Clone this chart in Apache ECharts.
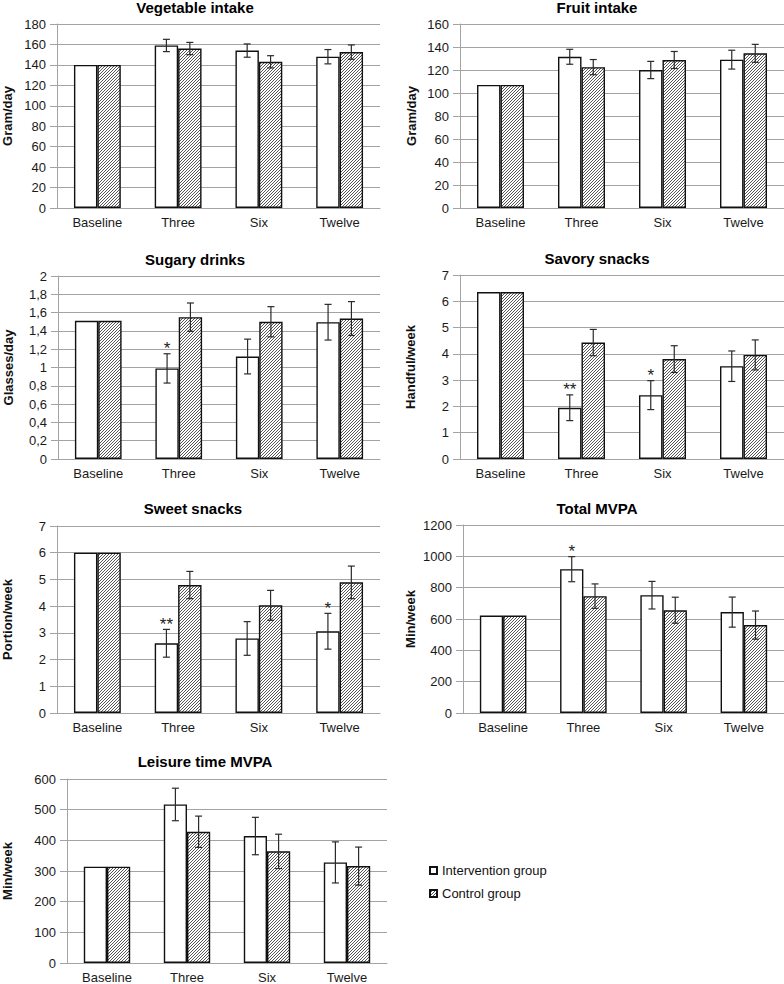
<!DOCTYPE html>
<html>
<head>
<meta charset="utf-8">
<script src="https://cdn.jsdelivr.net/npm/echarts@6/dist/echarts.min.js"></script>
<style>html,body{margin:0;padding:0;background:#fff}#c{width:784px;height:984px}</style>
</head>
<body>
<div id="c"></div>
<script>
// ---- data ----
const categories = ['Baseline', 'Three', 'Six', 'Twelve'];
const seriesNames = ['Intervention group', 'Control group'];

const vegInt = [140, 159, 154, 148];
const vegIntErr = [null, 6, 6.5, 7];
const vegCtrl = [140, 156, 143, 152.5];
const vegCtrlErr = [null, 6, 6, 7];
const vegStars = ['', '', '', ''];

const fruitInt = [107, 131.5, 120, 129];
const fruitIntErr = [null, 6.5, 7.5, 8.2];
const fruitCtrl = [107, 122.5, 128.7, 134.5];
const fruitCtrlErr = [null, 6.6, 7.4, 7.8];
const fruitStars = ['', '', '', ''];

const sugaryInt = [1.51, 0.99, 1.12, 1.495];
const sugaryIntErr = [null, 0.16, 0.19, 0.195];
const sugaryCtrl = [1.51, 1.55, 1.50, 1.535];
const sugaryCtrlErr = [null, 0.155, 0.165, 0.185];
const sugaryStars = ['', '*', '', ''];

const savoryInt = [6.35, 1.95, 2.43, 3.53];
const savoryIntErr = [null, 0.49, 0.55, 0.58];
const savoryCtrl = [6.35, 4.43, 3.80, 3.96];
const savoryCtrlErr = [null, 0.50, 0.51, 0.57];
const savoryStars = ['', '**', '*', ''];

const sweetInt = [6.0, 2.61, 2.79, 3.06];
const sweetIntErr = [null, 0.52, 0.63, 0.67];
const sweetCtrl = [6.0, 4.79, 4.03, 4.89];
const sweetCtrlErr = [null, 0.51, 0.56, 0.61];
const sweetStars = ['', '**', '', '*'];

const totalInt = [622, 918, 752, 644];
const totalIntErr = [null, 80, 88, 96];
const totalCtrl = [622, 746, 656, 561];
const totalCtrlErr = [null, 78, 83, 90];
const totalStars = ['', '*', '', ''];

const leisureInt = [314, 517, 414, 328];
const leisureIntErr = [null, 53, 61, 67];
const leisureCtrl = [314, 428, 364, 316];
const leisureCtrlErr = [null, 51, 56, 62];
const leisureStars = ['', '', '', ''];

// ---- panel layout ----
const panels = [
  {title: 'Vegetable intake', unit: 'Gram/day', int: vegInt, intErr: vegIntErr, ctrl: vegCtrl, ctrlErr: vegCtrlErr, stars: vegStars,
   max: 180, interval: 20, grid: {left: 57, top: 24, width: 323, height: 184}, tx: 195, ty: 7, nameGap: 43},
  {title: 'Fruit intake', unit: 'Gram/day', int: fruitInt, intErr: fruitIntErr, ctrl: fruitCtrl, ctrlErr: fruitCtrlErr, stars: fruitStars,
   max: 160, interval: 20, grid: {left: 460, top: 24, width: 324, height: 184}, tx: 597, ty: 7, nameGap: 42},
  {title: 'Sugary drinks', unit: 'Glasses/day', int: sugaryInt, intErr: sugaryIntErr, ctrl: sugaryCtrl, ctrlErr: sugaryCtrlErr, stars: sugaryStars,
   max: 2, interval: 0.2, grid: {left: 58, top: 276, width: 322, height: 183}, tx: 195, ty: 259, nameGap: 43, comma: true},
  {title: 'Savory snacks', unit: 'Handful/week', int: savoryInt, intErr: savoryIntErr, ctrl: savoryCtrl, ctrlErr: savoryCtrlErr, stars: savoryStars,
   max: 7, interval: 1, grid: {left: 460, top: 275, width: 324, height: 184}, tx: 597, ty: 258, nameGap: 43},
  {title: 'Sweet snacks', unit: 'Portion/week', int: sweetInt, intErr: sweetIntErr, ctrl: sweetCtrl, ctrlErr: sweetCtrlErr, stars: sweetStars,
   max: 7, interval: 1, grid: {left: 57, top: 526, width: 323, height: 187}, tx: 193, ty: 508, nameGap: 43},
  {title: 'Total MVPA', unit: 'Min/week', int: totalInt, intErr: totalIntErr, ctrl: totalCtrl, ctrlErr: totalCtrlErr, stars: totalStars,
   max: 1200, interval: 200, grid: {left: 463, top: 525, width: 321, height: 188}, tx: 597, ty: 508, nameGap: 46},
  {title: 'Leisure time MVPA', unit: 'Min/week', int: leisureInt, intErr: leisureIntErr, ctrl: leisureCtrl, ctrlErr: leisureCtrlErr, stars: leisureStars,
   max: 600, interval: 100, grid: {left: 67, top: 779, width: 320, height: 185}, tx: 205, ty: 761, nameGap: 53}
];

const FONT = '"Liberation Sans", Arial, sans-serif';
const GAP = 0.42;
const GRID_COLOR = '#a3a3a3';

function hatch() {
  const n = 3;
  const c = document.createElement('canvas');
  c.width = n; c.height = n;
  const g = c.getContext('2d');
  g.fillStyle = '#ffffff'; g.fillRect(0, 0, n, n);
  g.strokeStyle = '#444444'; g.lineWidth = 0.9;
  g.beginPath();
  g.moveTo(0, n); g.lineTo(n, 0);
  g.moveTo(-1, 1); g.lineTo(1, -1);
  g.moveTo(n - 1, n + 1); g.lineTo(n + 1, n - 1);
  g.stroke();
  return c;
}
const hatchPattern = {image: hatch(), repeat: 'repeat'};

const option = {
  animation: false,
  backgroundColor: '#fff',
  textStyle: {fontFamily: FONT},
  grid: [], xAxis: [], yAxis: [], series: [], graphic: [],
  legend: {
    orient: 'vertical', left: 429, top: 864, padding: 0, itemWidth: 7, itemHeight: 7, itemGap: 10,
    icon: 'rect', data: seriesNames,
    textStyle: {fontSize: 13, color: '#111', fontFamily: FONT}
  }
};

panels.forEach((p, k) => {
  option.grid.push(Object.assign({containLabel: false}, p.grid));
  option.xAxis.push({
    type: 'category', gridIndex: k, data: categories,
    axisLine: {lineStyle: {color: GRID_COLOR}}, axisTick: {show: false},
    axisLabel: {fontSize: 13, color: '#1a1a1a', margin: 8, fontFamily: FONT}
  });
  option.yAxis.push({
    type: 'value', gridIndex: k, min: 0, max: p.max, interval: p.interval,
    name: p.unit, nameLocation: 'middle', nameGap: p.nameGap,
    nameTextStyle: {fontSize: 13, fontWeight: 'bold', color: '#111', fontFamily: FONT},
    axisLine: {show: true, lineStyle: {color: GRID_COLOR}},
    axisTick: {show: true, length: 7, lineStyle: {color: GRID_COLOR}},
    splitLine: {lineStyle: {color: GRID_COLOR, width: 1}},
    axisLabel: {fontSize: 13, color: '#1a1a1a', margin: 11, fontFamily: FONT,
      formatter: v => p.comma ? String(Math.round(v * 10) / 10).replace('.', ',') : String(v)}
  });
  option.series.push({
    type: 'bar', name: seriesNames[0], xAxisIndex: k, yAxisIndex: k, data: p.int,
    barGap: '0%', barCategoryGap: (GAP * 100) + '%',
    itemStyle: {color: '#ffffff', borderColor: '#111', borderWidth: 1.4}
  });
  option.series.push({
    type: 'bar', name: seriesNames[1], xAxisIndex: k, yAxisIndex: k, data: p.ctrl,
    barGap: '0%', barCategoryGap: (GAP * 100) + '%',
    itemStyle: {color: hatchPattern, borderColor: '#111', borderWidth: 1.4}
  });
  option.series.push({
    type: 'custom', xAxisIndex: k, yAxisIndex: k, z: 5, silent: true,
    data: p.int.map((v, i) => [i, v]), encode: {x: 0, y: 1},
    renderItem: (params, api) => {
      const i = params.dataIndex;
      const c = api.coord([i, 0]);
      const band = api.size([1, 0])[0];
      const bw = band * (1 - GAP) / 2;
      const children = [];
      const sets = [[p.int, p.intErr, -1], [p.ctrl, p.ctrlErr, 1]];
      let starY = null;
      sets.forEach(([vals, errs, side], s) => {
        const e = errs[i];
        if (e == null) return;
        const x = c[0] + side * bw / 2;
        const yt = api.coord([i, vals[i] + e])[1];
        const yb = api.coord([i, vals[i] - e])[1];
        if (s === 0) starY = yt;
        const st = {stroke: '#2a2a2a', lineWidth: 1.2};
        children.push({type: 'line', shape: {x1: x, y1: yt, x2: x, y2: yb}, style: st});
        children.push({type: 'line', shape: {x1: x - 3.5, y1: yt, x2: x + 3.5, y2: yt}, style: st});
        children.push({type: 'line', shape: {x1: x - 3.5, y1: yb, x2: x + 3.5, y2: yb}, style: st});
      });
      if (p.stars[i] && starY != null) {
        children.push({type: 'text', x: c[0] - bw / 2, y: starY - 5,
          style: {text: p.stars[i], font: '17px ' + FONT, fill: '#222', align: 'center', verticalAlign: 'middle'}});
      }
      return {type: 'group', children};
    }
  });
  option.graphic.push({
    type: 'text', x: p.tx, y: p.ty,
    style: {text: p.title, font: 'bold 15px ' + FONT, fill: '#000', align: 'center', verticalAlign: 'middle'}
  });
});

const chart = echarts.init(document.getElementById('c'), null, {renderer: 'svg'});
chart.setOption(option);
</script>
</body>
</html>
